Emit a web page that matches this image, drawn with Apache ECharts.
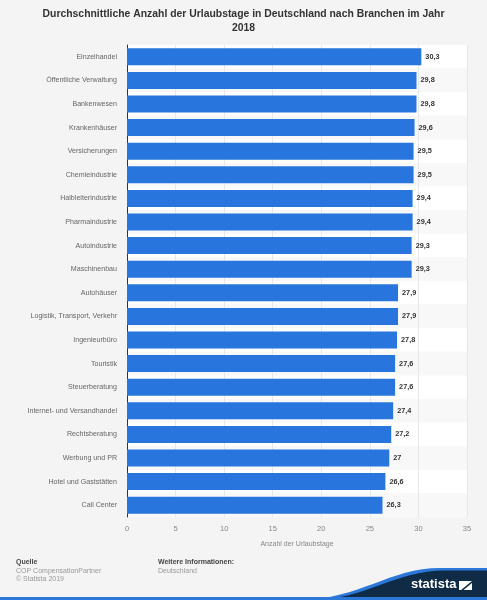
<!DOCTYPE html>
<html>
<head>
<meta charset="utf-8">
<script src="https://cdn.jsdelivr.net/npm/echarts@6/dist/echarts.min.js"></script>
<style>
  html, body { margin: 0; padding: 0; background: #f4f4f4; }
  #chart { width: 487px; height: 600px; }
</style>
</head>
<body>
<div id="chart"></div>
<script>
// Branchen, oben nach unten
const branchen = [
  'Einzelhandel', 'Öffentliche Verwaltung', 'Bankenwesen', 'Krankenhäuser',
  'Versicherungen', 'Chemieindustrie', 'Halbleiterindustrie', 'Pharmaindustrie',
  'Autoindustrie', 'Maschinenbau', 'Autohäuser', 'Logistik, Transport, Verkehr',
  'Ingenieurbüro', 'Touristik', 'Steuerberatung', 'Internet- und Versandhandel',
  'Rechtsberatung', 'Werbung und PR', 'Hotel und Gaststätten', 'Call Center'
];
const urlaubstage = [30.3, 29.8, 29.8, 29.6, 29.5, 29.5, 29.4, 29.4, 29.3, 29.3,
  27.9, 27.9, 27.8, 27.6, 27.6, 27.4, 27.2, 27, 26.6, 26.3];
const xTicks = [0, 5, 10, 15, 20, 25, 30, 35];

const chart = echarts.init(document.getElementById('chart'));
const font = 'Liberation Sans, Arial, sans-serif';

// Logo-Welle unten rechts (nur Deko)
const logoSvg = '<svg xmlns="http://www.w3.org/2000/svg" width="187" height="40" viewBox="0 0 187 40">' +
  '<path d="M0,40 C60,39 90,8 140,8 L187,8 L187,40 Z" fill="#2c78d8"/>' +
  '<path d="M12,40 C66,39.5 95,10.5 145,10.5 L187,10.5 L187,40 Z" fill="#0f2b46"/>' +
  '<path d="M159,21 L172,21 L161,30 L159,30 Z M172,23 L172,30 L163.5,30 Z" fill="#ffffff"/>' +
  '</svg>';

const option = {
  backgroundColor: '#f4f4f4',
  animation: false,
  title: {
    text: 'Durchschnittliche Anzahl der Urlaubstage in Deutschland nach Branchen im Jahr\n2018',
    left: 'center',
    top: 2,
    textStyle: { fontFamily: font, fontSize: 10.4, fontWeight: 'bold', color: '#333', lineHeight: 14 }
  },
  grid: { left: 127, right: 20, top: 45, bottom: 83, containLabel: false },
  xAxis: {
    type: 'value',
    min: xTicks[0],
    max: xTicks[xTicks.length - 1],
    interval: 5,
    name: 'Anzahl der Urlaubstage',
    nameLocation: 'middle',
    nameGap: 24,
    nameTextStyle: { fontFamily: font, fontSize: 7, color: '#888' },
    axisLine: { show: false },
    axisTick: { show: false },
    axisLabel: { fontFamily: font, fontSize: 7.5, color: '#888', margin: 8 },
    splitLine: { lineStyle: { color: '#e8e8e8', width: 1 } }
  },
  yAxis: {
    type: 'category',
    data: branchen,
    inverse: true,
    axisLine: { show: true, lineStyle: { color: '#333', width: 1 } },
    axisTick: { show: false },
    axisLabel: { fontFamily: font, fontSize: 7.1, color: '#666', margin: 10 },
    splitArea: { show: true, areaStyle: { color: ['#ffffff', '#f8f8f8'] } }
  },
  series: [{
    type: 'bar',
    data: urlaubstage,
    barCategoryGap: '28%',
    itemStyle: { color: '#2876dd' },
    label: {
      show: true,
      position: 'right',
      distance: 4,
      fontFamily: font,
      fontSize: 7.3,
      fontWeight: 'bold',
      color: '#333',
      formatter: p => String(p.value).replace('.', ',')
    }
  }],
  graphic: [
    { type: 'text', left: 16, top: 559, style: { text: 'Quelle', font: 'bold 7px ' + font, fill: '#444' } },
    { type: 'text', left: 16, top: 567.5, style: { text: 'COP CompensationPartner', font: '7px ' + font, fill: '#999' } },
    { type: 'text', left: 16, top: 575.5, style: { text: '© Statista 2019', font: '7px ' + font, fill: '#999' } },
    { type: 'text', left: 158, top: 559, style: { text: 'Weitere Informationen:', font: 'bold 7px ' + font, fill: '#444' } },
    { type: 'text', left: 158, top: 567.5, style: { text: 'Deutschland', font: '7px ' + font, fill: '#999' } },
    { type: 'image', left: 300, top: 560, z: 10, style: { image: 'data:image/svg+xml;charset=utf-8,' + encodeURIComponent(logoSvg), width: 187, height: 40 } },
    { type: 'rect', z: 11, shape: { x: 0, y: 597, width: 487, height: 3 }, style: { fill: '#2c78d8' } },
    { type: 'text', z: 12, left: 411, top: 578, style: { text: 'statista', font: 'bold 13px ' + font, fill: '#ffffff' } }
  ]
};
chart.setOption(option);
</script>
</body>
</html>
